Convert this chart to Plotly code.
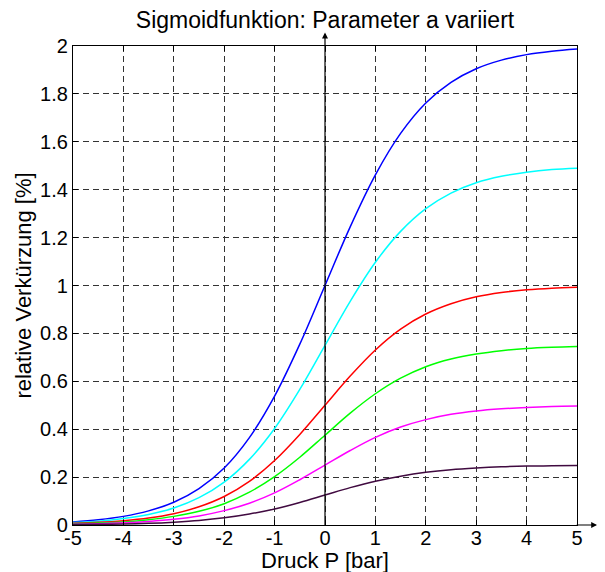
import plotly.graph_objects as go

# Druck P [bar]
druck = [-5, -4.5, -4, -3.5, -3, -2.5, -2, -1.5, -1, -0.5, 0,
         0.5, 1, 1.5, 2, 2.5, 3, 3.5, 4, 4.5, 5]

# relative Verkuerzung [%] for each curve
blau = [0.013, 0.022, 0.036, 0.059, 0.095, 0.152, 0.238, 0.365, 0.538, 0.755, 1.0,
        1.245, 1.462, 1.635, 1.762, 1.848, 1.905, 1.941, 1.964, 1.978, 1.987]
cyan = [0.010, 0.016, 0.027, 0.044, 0.071, 0.114, 0.179, 0.274, 0.403, 0.566, 0.75,
        0.934, 1.097, 1.226, 1.321, 1.386, 1.429, 1.456, 1.473, 1.484, 1.490]
rot = [0.007, 0.011, 0.018, 0.029, 0.047, 0.076, 0.119, 0.182, 0.269, 0.378, 0.5,
       0.622, 0.731, 0.818, 0.881, 0.924, 0.953, 0.971, 0.982, 0.989, 0.993]
gruen = [0.005, 0.008, 0.013, 0.022, 0.036, 0.057, 0.089, 0.137, 0.202, 0.283, 0.375,
         0.467, 0.548, 0.613, 0.661, 0.693, 0.714, 0.728, 0.737, 0.742, 0.745]
magenta = [0.003, 0.005, 0.009, 0.015, 0.024, 0.038, 0.060, 0.091, 0.134, 0.189, 0.25,
           0.311, 0.366, 0.409, 0.440, 0.462, 0.476, 0.485, 0.491, 0.495, 0.497]
dunkel = [0.002, 0.003, 0.004, 0.007, 0.012, 0.019, 0.030, 0.046, 0.067, 0.094, 0.125,
          0.156, 0.183, 0.204, 0.220, 0.231, 0.238, 0.243, 0.246, 0.247, 0.248]

x_ticks = [-5, -4, -3, -2, -1, 0, 1, 2, 3, 4, 5]
y_ticks = [0, 0.2, 0.4, 0.6, 0.8, 1, 1.2, 1.4, 1.6, 1.8, 2]

kurven = [
    (blau, "#0000ff"),
    (cyan, "#00ffff"),
    (rot, "#ff0000"),
    (gruen, "#00ff00"),
    (magenta, "#ff00ff"),
    (dunkel, "#400a40"),
]

fig = go.Figure()

# vertical axis line at P = 0
fig.add_shape(type="line", xref="x", yref="y", x0=0, x1=0, y0=0, y1=2,
              line=dict(color="black", width=1.2), layer="above")

for werte, farbe in kurven:
    fig.add_trace(go.Scatter(
        x=druck, y=werte, mode="lines",
        line=dict(color=farbe, width=1.5, shape="spline"),
        showlegend=False,
    ))

# arrows (MATLAB style axis arrows)
fig.add_annotation(xref="x", yref="paper", x=0, y=1.028, ax=0, ay=14,
                   showarrow=True, arrowhead=2, arrowsize=1, arrowwidth=1.2,
                   arrowcolor="black", text="")
fig.add_annotation(xref="paper", yref="y", x=1.04, y=0, ax=-22, ay=0,
                   showarrow=True, arrowhead=2, arrowsize=1, arrowwidth=1.2,
                   arrowcolor="black", text="")

# x axis title as annotation so it sits closer to the tick labels
fig.add_annotation(xref="paper", yref="paper", x=0.5, y=-0.044,
                   xanchor="center", yanchor="top", showarrow=False,
                   text="Druck P [bar]", font=dict(size=22, color="black"))

achse = dict(
    showline=True, linecolor="black", linewidth=1.2, mirror="ticks",
    ticks="inside", ticklen=5, tickcolor="black",
    showgrid=True, gridcolor="#333333", gridwidth=1, griddash="6px,4px",
    zeroline=False, automargin=False,
    tickfont=dict(size=20, color="black"),
)

# the page adds 8px body margin, so margins are shifted by that
fig.update_layout(
    width=605, height=572,
    margin=dict(l=65, r=36, t=38, b=55),
    plot_bgcolor="white", paper_bgcolor="white",
    font=dict(family="Liberation Sans, Arial, sans-serif", color="black"),
    title=dict(text="Sigmoidfunktion: Parameter a variiert",
               x=0.524, xanchor="center", y=0.979, yanchor="middle",
               font=dict(size=23, color="black")),
    xaxis=dict(achse, range=[-5, 5], tickvals=x_ticks,
               ticktext=[str(v) for v in x_ticks], ticklabelstandoff=-5),
    yaxis=dict(achse, range=[0, 2], tickvals=y_ticks,
               ticktext=[("%g" % v) for v in y_ticks],
               title=dict(text="relative Verkürzung [%]", font=dict(size=22), standoff=2)),
)

fig.write_html("out.html")
